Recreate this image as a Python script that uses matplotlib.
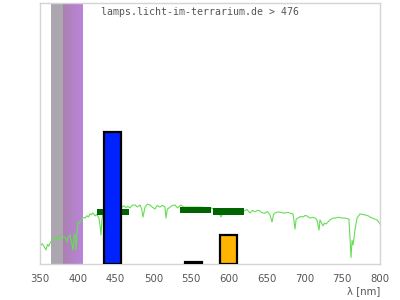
import matplotlib
matplotlib.use("Agg")
import matplotlib.pyplot as plt
import numpy as np

# Spectrum line (wavelength nm, relative value)
spec_nm = [351.3, 353.0, 355.0, 356.6, 357.9, 360.0, 361.5, 363.2, 365.0, 367.0, 369.9, 372.0,
           374.0, 376.5, 378.0, 380.0, 383.1, 384.5, 385.7, 387.0, 389.7, 391.0, 392.5, 393.7,
           395.0, 396.3, 397.6, 399.0, 400.3, 401.5, 402.9, 405.0, 407.0, 409.6, 412.0, 414.0,
           416.2, 418.0, 420.0, 422.8, 425.0, 428.1, 429.5, 430.7, 432.0, 433.4, 440.0, 449.0,
           458.5, 461.0, 464.0, 466.0, 469.1, 472.0, 475.7, 479.0, 482.4, 484.5, 486.3, 489.0,
           492.0, 495.6, 499.0, 502.2, 505.0, 508.8, 512.0, 515.4, 516.8, 518.5, 522.1, 525.0,
           528.7, 532.0, 536.6, 540.0, 548.5, 561.8, 575.0, 585.0, 589.6, 594.0, 601.5, 610.0,
           620.0, 624.0, 627.9, 631.0, 634.6, 638.0, 641.2, 644.0, 647.8, 651.0, 654.4, 657.1,
           659.0, 661.0, 664.0, 667.6, 671.0, 674.3, 678.0, 680.9, 684.9, 687.5, 689.0, 691.5,
           695.0, 698.1, 701.0, 703.4, 707.4, 711.0, 714.0, 716.6, 719.3, 720.6, 722.5, 724.6,
           726.5, 728.5, 733.8, 737.0, 740.4, 745.0, 750.0, 753.7, 758.9, 760.3, 761.6, 763.0,
           764.3, 766.9, 769.6, 773.5, 777.0, 780.1, 784.0, 786.8, 790.0, 793.4, 796.5, 800.0]
spec_val = [7.3, 7.8, 6.9, 6.1, 5.4, 7.5, 6.8, 8.0, 8.6, 9.4, 10.0, 9.6,
            10.4, 9.2, 10.1, 10.3, 10.3, 9.5, 8.4, 10.2, 11.1, 9.0, 7.5, 5.4,
            10.5, 11.5, 5.4, 12.0, 16.1, 15.6, 16.1, 16.9, 17.8, 17.6, 18.5, 18.0,
            19.2, 18.9, 19.6, 18.4, 19.0, 17.6, 14.5, 11.1, 17.0, 19.5, 20.2, 20.7,
            21.8, 22.3, 21.6, 22.1, 21.5, 22.5, 22.6, 21.9, 22.6, 21.2, 18.0, 21.8,
            22.9, 22.6, 21.7, 21.1, 22.4, 21.8, 22.5, 21.8, 17.6, 21.0, 21.8, 22.4,
            22.6, 21.5, 22.6, 21.8, 21.8, 21.8, 21.5, 20.8, 18.0, 21.0, 21.1, 20.8,
            20.3, 20.9, 19.5, 20.5, 20.0, 20.6, 20.3, 19.6, 19.5, 20.1, 18.8, 16.1,
            18.9, 19.5, 19.9, 19.9, 19.6, 19.5, 19.8, 19.5, 19.2, 13.4, 17.2, 17.6,
            18.2, 18.0, 18.6, 18.4, 17.6, 17.9, 17.6, 16.9, 13.0, 16.9, 15.8, 14.6,
            15.7, 15.3, 16.9, 17.5, 17.6, 17.9, 17.6, 17.6, 17.2, 10.0, 2.5, 9.0,
            7.3, 13.0, 17.6, 19.2, 19.0, 18.8, 18.5, 18.0, 17.6, 17.2, 16.8, 15.3]

# Bars (UV / LED peaks)
bar_left = [435, 542, 588]
bar_right = [457, 564, 611]
bar_height = [50.5, 0.8, 11.1]
bar_colors = ["#0022ff", "#000000", "#ffb400"]

# Green rectangles (left, right, center value)
rect_left = [425.4, 535, 579]
rect_right = [467.8, 576, 620]
rect_center = [19.9, 20.7, 20.1]
rect_h = 2.6

# Background bands
grey_band = (365, 380)
purple_band = (380, 407)

fig = plt.figure(figsize=(4, 3), dpi=100)
ax = fig.add_axes([0.1, 0.12, 0.85, 0.87])
ax.set_xlim(350, 800)
ax.set_ylim(0, 100)

ax.axvspan(*grey_band, color="#aca6ae", lw=0, zorder=1)
n = 20
edges = np.linspace(purple_band[0], purple_band[1], n + 1)
c0 = np.array([170, 128, 176]) / 255
c1 = np.array([186, 132, 218]) / 255
for i in range(n):
    t = i / (n - 1)
    ax.axvspan(edges[i], edges[i + 1], color=c0 * (1 - t) + c1 * t, lw=0, zorder=1)

ax.plot(spec_nm, spec_val, color="#66dd55", lw=0.8, zorder=2)

for l, r, c in zip(rect_left, rect_right, rect_center):
    ax.bar(l, rect_h, width=r - l, bottom=c - rect_h / 2, align="edge",
           color="#006400", lw=0, zorder=3)

for l, r, h, col in zip(bar_left, bar_right, bar_height, bar_colors):
    ax.bar(l, h, width=r - l, align="edge", color=col, edgecolor="black",
           lw=1.6, zorder=4)

for s in ax.spines.values():
    s.set_color("#d4d4d4")
    s.set_linewidth(1)

ax.set_yticks([])
ax.set_xticks([350, 400, 450, 500, 550, 600, 650, 700, 750, 800])
ax.tick_params(axis="x", length=0, pad=7, labelsize=7.3, labelcolor="#555555")
ax.set_xlabel("λ [nm]", fontsize=7.3, color="#555555", loc="right", labelpad=2)

ax.text(0.47, 0.985, "lamps.licht-im-terrarium.de > 476", transform=ax.transAxes,
        ha="center", va="top", fontsize=7.1, family="DejaVu Sans Mono", color="#555555")

fig.savefig("out.png", dpi=100)
